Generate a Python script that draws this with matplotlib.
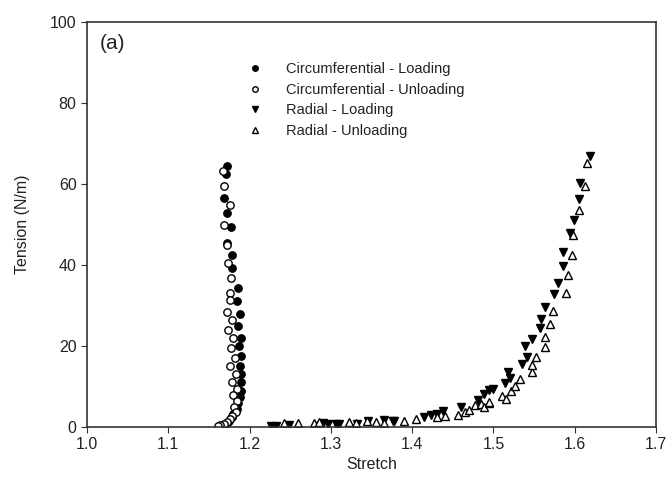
import matplotlib
matplotlib.use("Agg")
import matplotlib.pyplot as plt

plt.rcParams['font.family'] = ['Liberation Sans', 'DejaVu Sans']

# circumferential - loading (filled circles)
circ_load_x = [1.172, 1.171, 1.169, 1.172, 1.177, 1.172, 1.178, 1.178, 1.186, 1.184,
               1.188, 1.186, 1.190, 1.187, 1.190, 1.188, 1.190, 1.189, 1.190, 1.188,
               1.186, 1.185, 1.180, 1.178, 1.175, 1.172, 1.168, 1.165]
circ_load_y = [64.4, 62.5, 56.5, 52.8, 49.5, 45.4, 42.5, 39.3, 34.3, 31.0,
               28.0, 25.0, 22.0, 20.0, 17.5, 15.0, 13.0, 11.0, 9.0, 7.5,
               6.0, 4.5, 3.3, 2.4, 1.6, 1.0, 0.6, 0.3]

# circumferential - unloading (open circles)
circ_unload_x = [1.1675, 1.169, 1.176, 1.168, 1.172, 1.173, 1.177, 1.176, 1.176, 1.172,
                 1.178, 1.174, 1.180, 1.177, 1.182, 1.176, 1.183, 1.178, 1.184, 1.180,
                 1.184, 1.181, 1.183, 1.179, 1.176, 1.172, 1.168, 1.164, 1.161]
circ_unload_y = [63.3, 59.5, 54.8, 49.9, 45.0, 40.5, 36.8, 33.0, 31.4, 28.5,
                 26.5, 24.0, 22.0, 19.5, 17.0, 15.0, 13.0, 11.0, 9.5, 8.0,
                 6.5, 5.0, 3.8, 2.8, 2.0, 1.3, 0.8, 0.4, 0.2]

# radial - loading (filled down triangles)
rad_load_x = [1.226, 1.232, 1.248, 1.284, 1.290, 1.296, 1.306, 1.310, 1.332, 1.346,
              1.365, 1.376, 1.378, 1.415, 1.423, 1.430, 1.438, 1.460, 1.481, 1.488,
              1.494, 1.500, 1.514, 1.518, 1.520, 1.535, 1.541, 1.539, 1.547, 1.557,
              1.559, 1.563, 1.575, 1.580, 1.585, 1.585, 1.594, 1.599, 1.605, 1.606,
              1.619]
rad_load_y = [0.3, 0.3, 0.4, 0.3, 1.0, 0.8, 0.8, 0.7, 0.8, 1.6,
              1.8, 1.5, 1.5, 2.5, 3.0, 3.2, 4.0, 5.0, 6.7, 8.1,
              9.1, 9.4, 10.9, 13.6, 12.1, 15.6, 17.3, 20.0, 21.7, 24.4,
              26.7, 29.6, 32.8, 35.6, 39.8, 43.2, 47.9, 51.1, 56.3, 60.2,
              66.9]

# radial - unloading (open up triangles)
rad_unload_x = [1.242, 1.259, 1.279, 1.285, 1.322, 1.331, 1.345, 1.355, 1.365, 1.390,
                1.405, 1.430, 1.440, 1.457, 1.465, 1.470, 1.477, 1.485, 1.488, 1.494,
                1.494, 1.510, 1.515, 1.521, 1.526, 1.533, 1.547, 1.547, 1.552, 1.563,
                1.564, 1.570, 1.573, 1.589, 1.592, 1.597, 1.598, 1.605, 1.613, 1.615]
rad_unload_y = [1.0, 0.9, 1.0, 1.2, 1.2, 0.9, 1.6, 1.2, 1.1, 1.5,
                2.0, 2.5, 2.8, 3.0, 3.7, 4.2, 5.4, 5.7, 4.9, 5.9,
                6.2, 7.7, 6.9, 8.9, 10.1, 11.8, 13.6, 15.3, 17.3, 19.8,
                22.2, 25.4, 28.6, 33.1, 37.5, 42.5, 47.4, 53.6, 59.5, 65.2]

fig = plt.figure(figsize=(6.66, 4.93), dpi=100)
ax = fig.add_axes([0.1306, 0.1339, 0.8544, 0.8215])

ms = 5.3
ax.plot(circ_load_x, circ_load_y, 'o', color='black', ms=ms, mec='black',
        label='Circumferential - Loading')
ax.plot(circ_unload_x, circ_unload_y, 'o', mfc='white', mec='black', ms=ms, mew=1,
        label='Circumferential - Unloading')
ax.plot(rad_load_x, rad_load_y, 'v', color='black', ms=ms + 0.5, mec='black',
        label='Radial - Loading')
ax.plot(rad_unload_x, rad_unload_y, '^', mfc='white', mec='black', ms=ms, mew=1,
        label='Radial - Unloading')

ax.set_xlim(1.0, 1.7)
ax.set_ylim(0, 100)
ax.set_xticks([1.0, 1.1, 1.2, 1.3, 1.4, 1.5, 1.6, 1.7])
ax.set_yticks([0, 20, 40, 60, 80, 100])
ax.tick_params(direction='out', length=4, labelsize=11.5, color='#333333', labelcolor='#222222')
for s in ax.spines.values():
    s.set_color('#333333')
    s.set_linewidth(1.2)

ax.set_xlabel('Stretch', fontsize=11.5, color='#222222', labelpad=3)
ax.set_ylabel('Tension (N/m)', fontsize=11.5, color='#222222', labelpad=14)

ax.text(0.022, 0.97, '(a)', transform=ax.transAxes, fontsize=15, va='top', color='#222222')

leg = ax.legend(loc='upper left', bbox_to_anchor=(0.27, 0.915), frameon=False,
                fontsize=10.5, handlelength=1.2, handletextpad=1.5, labelspacing=0.45,
                markerscale=0.75, borderaxespad=0)
for t in leg.get_texts():
    t.set_color('#222222')

fig.savefig('out.png', dpi=100)
